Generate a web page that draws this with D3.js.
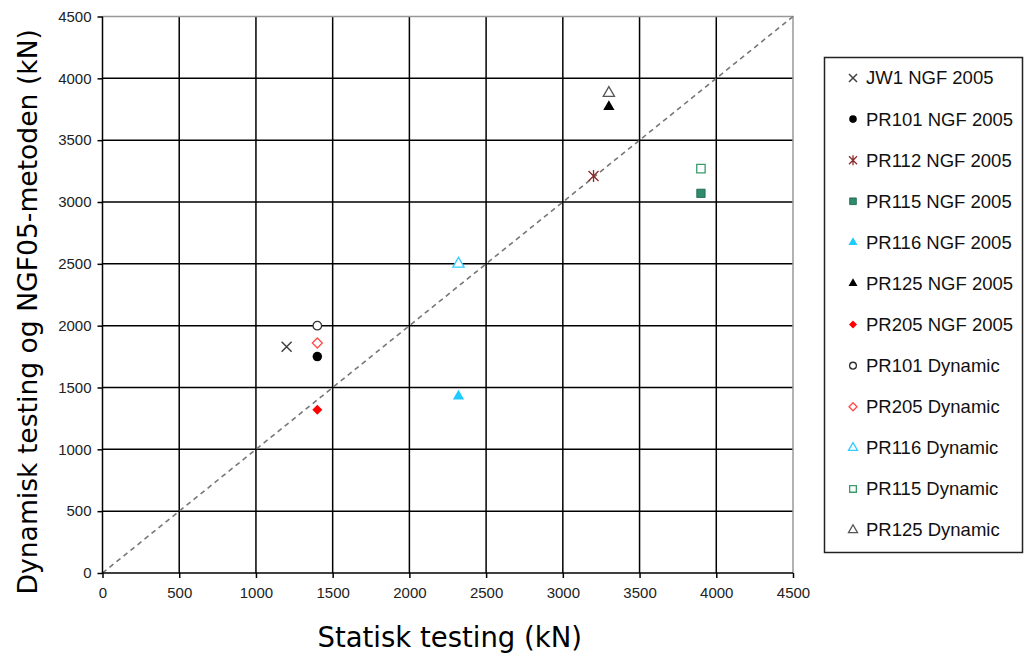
<!DOCTYPE html>
<html>
<head>
<meta charset="utf-8">
<script src="https://cdn.jsdelivr.net/npm/d3@7"></script>
<style>
  body { margin: 0; background: #fff; }
  svg { display: block; }
</style>
</head>
<body>
<div id="chart"></div>
<script>
// series names, in legend order
var seriesNames = ["JW1 NGF 2005", "PR101 NGF 2005", "PR112 NGF 2005", "PR115 NGF 2005",
  "PR116 NGF 2005", "PR125 NGF 2005", "PR205 NGF 2005", "PR101 Dynamic",
  "PR205 Dynamic", "PR116 Dynamic", "PR115 Dynamic", "PR125 Dynamic"];
// static test value (x) and dynamic/NGF05 value (y), one point per series
var staticVals = [1200, 1400, 3200, 3900, 2320, 3300, 1400, 1400, 1400, 2320, 3900, 3300];
var dynamicVals = [1830, 1750, 3210, 3070, 1430, 3770, 1320, 2000, 1860, 2500, 3270, 3880];
var markerKinds = ["x", "dot", "star", "square", "tri", "tri", "diamond",
  "circle", "diamondO", "triO", "squareO", "triO"];
var markerColors = ["#404040", "#000", "#8b2a2a", "#2e8b6e", "#1ecbff", "#000", "#ff0000",
  "#333", "#ff4a4a", "#33ccff", "#3a9a6a", "#555"];
var tickVals = d3.range(0, 4501, 500);

var width = 1025, height = 657;
var margin = {top: 16.5, right: 232, bottom: 84, left: 102.5};

var svg = d3.select("#chart").append("svg")
  .attr("width", width).attr("height", height);

var x = d3.scaleLinear().domain([0, 4500]).range([margin.left, width - margin.right]);
var y = d3.scaleLinear().domain([0, 4500]).range([height - margin.bottom, margin.top]);

// grid
var grid = svg.append("g");
grid.selectAll(".vg").data(tickVals.slice(1, -1)).enter().append("line")
  .attr("x1", d => x(d)).attr("x2", d => x(d))
  .attr("y1", y(0)).attr("y2", y(4500))
  .attr("stroke", "#000").attr("stroke-width", 1.5);
grid.selectAll(".hg").data(tickVals.slice(1, -1)).enter().append("line")
  .attr("y1", d => y(d)).attr("y2", d => y(d))
  .attr("x1", x(0)).attr("x2", x(4500))
  .attr("stroke", "#000").attr("stroke-width", 1.5);
// top / right border in grey
svg.append("path")
  .attr("d", "M" + x(0) + "," + y(4500) + "H" + x(4500) + "V" + y(0))
  .attr("fill", "none").attr("stroke", "#999").attr("stroke-width", 1.5);

// 1:1 line
svg.append("line")
  .attr("x1", x(0)).attr("y1", y(0)).attr("x2", x(4500)).attr("y2", y(4500))
  .attr("stroke", "#777").attr("stroke-width", 1.6).attr("stroke-dasharray", "5,4");

// axes
var fmt = d3.format("d");
var xAxis = svg.append("g")
  .attr("transform", "translate(0," + y(0) + ")")
  .call(d3.axisBottom(x).tickValues(tickVals).tickFormat(fmt).tickSize(5).tickPadding(9));
var yAxis = svg.append("g")
  .attr("transform", "translate(" + x(0) + ",0)")
  .call(d3.axisLeft(y).tickValues(tickVals).tickFormat(fmt).tickSize(5).tickPadding(6));
[xAxis, yAxis].forEach(function(a) {
  a.selectAll("path, line").attr("stroke", "#000").attr("stroke-width", 1.5);
  a.select(".domain").attr("d", a === xAxis ? "M" + x(0) + ",0H" + x(4500) : "M0," + y(0) + "V" + y(4500));
  a.selectAll("text").attr("font-family", "Liberation Sans, Arial, sans-serif")
    .attr("font-size", 15).attr("fill", "#222");
});

// axis titles
svg.append("text")
  .attr("x", x(2250) + 2).attr("y", 647)
  .attr("text-anchor", "middle")
  .attr("font-family", "DejaVu Sans, Verdana, sans-serif").attr("font-size", 27.5)
  .text("Statisk testing (kN)");
svg.append("text")
  .attr("transform", "translate(37," + (y(2250) + 17) + ") rotate(-90)")
  .attr("text-anchor", "middle")
  .attr("font-family", "DejaVu Sans, Verdana, sans-serif").attr("font-size", 26.6)
  .text("Dynamisk testing og NGF05-metoden (kN)");

function drawMarker(g, kind, color, s) {
  var tri = d3.symbol().type(d3.symbolTriangle).size(s * s * 0.55)();
  var sq = d3.symbol().type(d3.symbolSquare).size(s * s * 0.7)();
  var r = s / 2;
  var dia = "M0," + (-r) + "L" + r + ",0L0," + r + "L" + (-r) + ",0Z";
  if (kind === "x") {
    g.append("path").attr("d", "M" + (-r) + "," + (-r) + "L" + r + "," + r + "M" + (-r) + "," + r + "L" + r + "," + (-r))
      .attr("stroke", color).attr("stroke-width", 1.5);
  } else if (kind === "star") {
    g.append("path").attr("d", "M" + (-r) + "," + (-r) + "L" + r + "," + r + "M" + (-r) + "," + r + "L" + r + "," + (-r) + "M0," + (-r - 1) + "V" + (r + 1))
      .attr("stroke", color).attr("stroke-width", 1.3);
  } else if (kind === "dot") {
    g.append("circle").attr("r", r * 0.95).attr("fill", color);
  } else if (kind === "circle") {
    g.append("circle").attr("r", r * 0.85).attr("fill", "#fff").attr("stroke", color).attr("stroke-width", 1.3);
  } else if (kind === "square") {
    g.append("path").attr("d", sq).attr("fill", color).attr("stroke", "#1f5f4a").attr("stroke-width", 0.8);
  } else if (kind === "squareO") {
    g.append("path").attr("d", sq).attr("fill", "#fff").attr("stroke", color).attr("stroke-width", 1.3);
  } else if (kind === "tri") {
    g.append("path").attr("d", tri).attr("fill", color);
  } else if (kind === "triO") {
    g.append("path").attr("d", tri).attr("fill", "#fff").attr("stroke", color).attr("stroke-width", 1.3);
  } else if (kind === "diamond") {
    g.append("path").attr("d", dia).attr("fill", color);
  } else if (kind === "diamondO") {
    g.append("path").attr("d", dia).attr("fill", "#fff").attr("stroke", color).attr("stroke-width", 1.3);
  }
}

// points
seriesNames.forEach(function(name, i) {
  var g = svg.append("g").attr("transform", "translate(" + x(staticVals[i]) + "," + y(dynamicVals[i]) + ")");
  drawMarker(g, markerKinds[i], markerColors[i], 10);
});

// legend
var legend = svg.append("g");
legend.append("rect")
  .attr("x", 824.5).attr("y", 57.5).attr("width", 198).attr("height", 495)
  .attr("fill", "#fff").attr("stroke", "#222").attr("stroke-width", 1.5);
var ly = d3.scalePoint().domain(seriesNames).range([78, 530]);
seriesNames.forEach(function(name, i) {
  var g = legend.append("g").attr("transform", "translate(853," + ly(name) + ")");
  drawMarker(g, markerKinds[i], markerColors[i], 8);
  legend.append("text")
    .attr("x", 866).attr("y", ly(name)).attr("dy", "0.35em")
    .attr("font-family", "Liberation Sans, Arial, sans-serif").attr("font-size", 18.5)
    .attr("fill", "#111")
    .text(name);
});
</script>
</body>
</html>
